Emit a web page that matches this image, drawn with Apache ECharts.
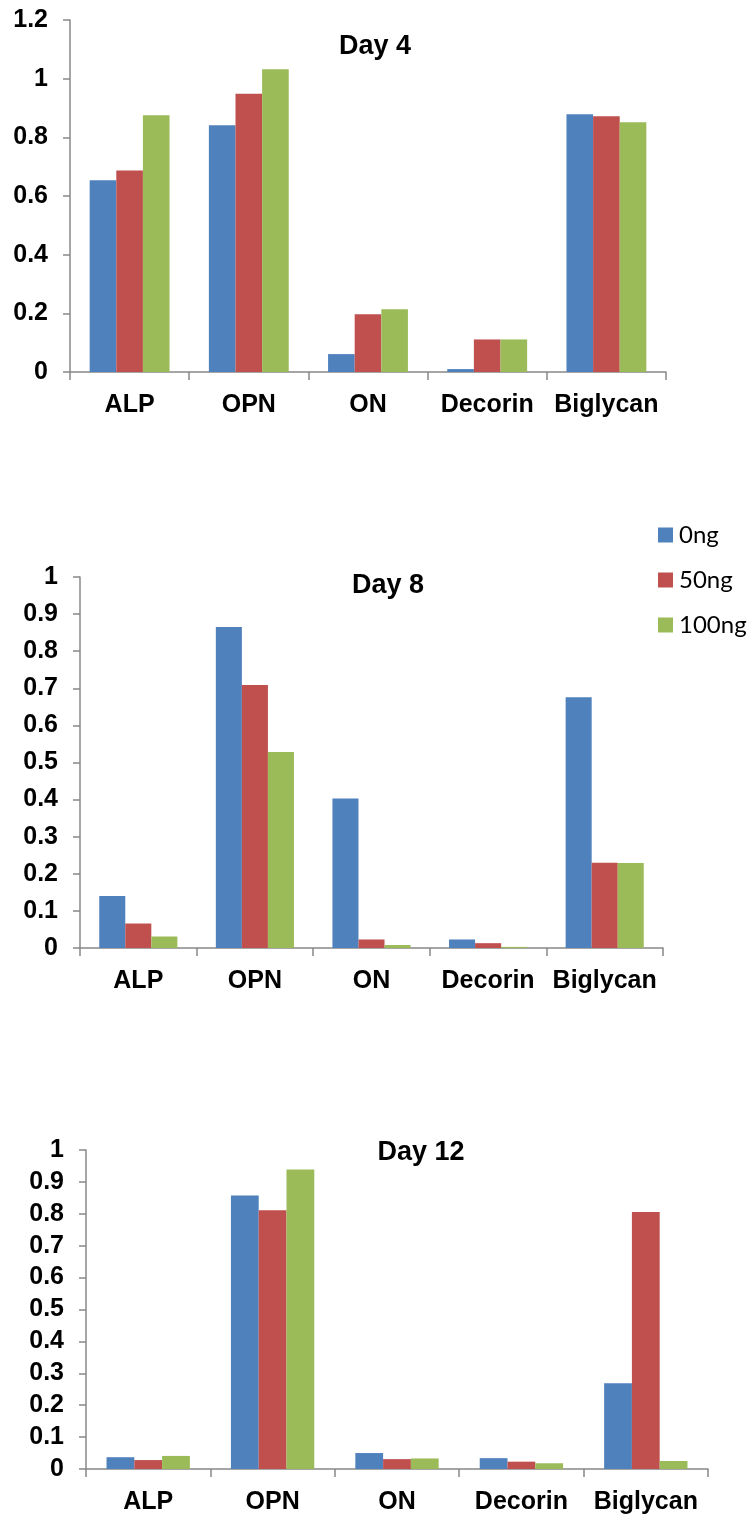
<!DOCTYPE html>
<html>
<head>
<meta charset="utf-8">
<script src="https://cdn.jsdelivr.net/npm/echarts@6/dist/echarts.min.js"></script>
<style>
html,body{margin:0;padding:0;background:#fff;}
#c{width:747px;height:1517px;}
</style>
</head>
<body>
<div id="c"></div>
<script>
const categories = ['ALP', 'OPN', 'ON', 'Decorin', 'Biglycan'];
const seriesNames = ['0ng', '50ng', '100ng'];
const titles = ['Day 4', 'Day 8', 'Day 12'];

const day4_0ng   = [0.654, 0.841, 0.061, 0.010, 0.879];
const day4_50ng  = [0.687, 0.949, 0.197, 0.111, 0.872];
const day4_100ng = [0.875, 1.032, 0.214, 0.111, 0.851];

const day8_0ng   = [0.140, 0.865, 0.403, 0.023, 0.676];
const day8_50ng  = [0.066, 0.709, 0.023, 0.013, 0.230];
const day8_100ng = [0.031, 0.528, 0.008, 0.003, 0.229];

const day12_0ng   = [0.037, 0.857, 0.050, 0.034, 0.269];
const day12_50ng  = [0.028, 0.811, 0.031, 0.023, 0.806];
const day12_100ng = [0.041, 0.939, 0.033, 0.018, 0.025];

const yMax = [1.2, 1, 1];
const yInterval = [0.2, 0.1, 0.1];

const colors = ['#4F81BD', '#C0504D', '#9BBB59'];
const data = [
  [day4_0ng, day4_50ng, day4_100ng],
  [day8_0ng, day8_50ng, day8_100ng],
  [day12_0ng, day12_50ng, day12_100ng]
];

const grids = [
  {left: 70, right: 81, top: 20, height: 352},
  {left: 80, right: 84, top: 577, height: 371},
  {left: 86, right: 39, top: 1150, height: 319}
];
const titlePos = [[375, 47], [388, 586], [421, 1153]];

const axisColor = '#888888';
const labelFont = '"Liberation Sans", Arial, sans-serif';

const xAxes = [], yAxes = [], series = [], graphics = [];
for (let g = 0; g < 3; g++) {
  xAxes.push({
    type: 'category', gridIndex: g, data: categories,
    axisLine: {lineStyle: {color: axisColor, width: 1.5}},
    axisTick: {show: true, length: 8, alignWithLabel: false, lineStyle: {color: axisColor, width: 1.5}},
    axisLabel: {color: '#000', fontWeight: 'bold', fontSize: 25, fontFamily: labelFont, margin: 21, interval: 0}
  });
  yAxes.push({
    type: 'value', gridIndex: g, min: 0, max: yMax[g], interval: yInterval[g],
    splitLine: {show: false},
    axisLine: {show: true, lineStyle: {color: axisColor, width: 1.5}},
    axisTick: {show: true, length: 7, lineStyle: {color: axisColor, width: 1.5}},
    axisLabel: {color: '#000', fontWeight: 'bold', fontSize: 25, fontFamily: labelFont, margin: 22,
      formatter: v => String(+v.toFixed(1))}
  });
  for (let s = 0; s < 3; s++) {
    series.push({
      type: 'bar', name: seriesNames[s], xAxisIndex: g, yAxisIndex: g,
      data: data[g][s], barGap: '0%', barCategoryGap: '33%',
      itemStyle: {color: colors[s]}, silent: true, animation: false
    });
  }
  graphics.push({
    type: 'text', x: titlePos[g][0], y: titlePos[g][1],
    style: {text: titles[g], fill: '#000', font: 'bold 27px "Liberation Sans", Arial, sans-serif',
      textAlign: 'center', textVerticalAlign: 'middle'}
  });
}

const chart = echarts.init(document.getElementById('c'), null, {renderer: 'canvas'});
chart.setOption({
  animation: false,
  backgroundColor: '#fff',
  grid: grids,
  xAxis: xAxes,
  yAxis: yAxes,
  series: series,
  graphic: graphics,
  legend: {
    orient: 'vertical', left: 658, top: 523, padding: 0,
    itemWidth: 15, itemHeight: 15, itemGap: 21,
    icon: 'rect',
    data: seriesNames,
    textStyle: {fontFamily: 'Lato, sans-serif', fontSize: 24, color: '#000', padding: [0, 0, 0, 1]}
  }
});
</script>
</body>
</html>
